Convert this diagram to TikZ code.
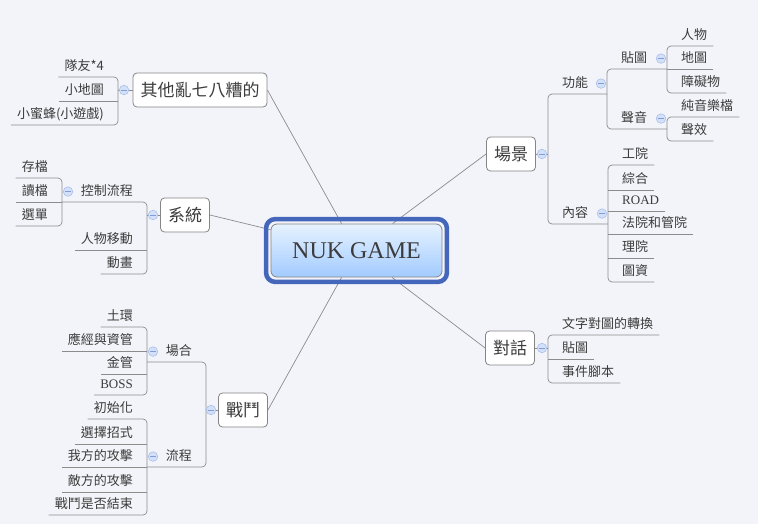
\documentclass[tikz,border=0pt]{standalone}
\usepackage{fontspec}
\setmainfont{Liberation Serif}
\newfontfamily\cjk{Noto Sans CJK TC}
\usetikzlibrary{positioning}
\definecolor{bgpaper}{HTML}{F3F4F9}
\definecolor{linegray}{HTML}{8C8C8C}
\definecolor{boxgray}{HTML}{858585}
\definecolor{textgray}{HTML}{3C3C3C}
\definecolor{foldfill}{HTML}{D3E0F7}
\definecolor{folddraw}{HTML}{A8C0EC}
\definecolor{foldminus}{HTML}{7F9ED8}
\definecolor{nukblue}{HTML}{4466BB}
\definecolor{nuktop}{HTML}{E6F2FF}
\definecolor{nukbottom}{HTML}{A2CBFF}

\begin{document}
\begin{tikzpicture}[x=1pt,y=-1pt,
  topic/.style={draw=boxgray,line width=0.8pt,fill=white,rounded corners=4pt,
    font=\cjk\fontsize{17}{20}\selectfont,text=textgray,minimum height=34pt,inner xsep=7.5pt},
  leaf/.style={font=\cjk\fontsize{13}{15}\selectfont,text=textgray,inner xsep=6pt,inner ysep=4pt,
    text height=10pt,text depth=2.5pt},
  branch/.style={draw=linegray,line width=0.7pt,rounded corners=4pt},
  fold/.style={circle,draw=folddraw,fill=foldfill,line width=0.6pt,minimum size=9.5pt,inner sep=0pt,
    path picture={\draw[foldminus,line width=0.9pt] ([xshift=-2.6pt]path picture bounding box.center) -- ([xshift=2.6pt]path picture bounding box.center);}}]
\useasboundingbox (0,0) rectangle (758,524);
\fill[bgpaper] (0,0) rectangle (758,524);

\node[draw=boxgray,line width=0.8pt,rounded corners=6pt,top color=nuktop,bottom color=nukbottom,
  minimum width=171pt,minimum height=53pt,font=\fontsize{24}{28}\selectfont,text=textgray] (nuk) at (356.5,250.5) {NUK GAME};

\node[topic] (scene) at (511,154) {場景};
\node[topic] (dialog) at (510,348) {對話};
\node[topic] (misc) at (200,90) {其他亂七八糟的};
\node[topic] (system) at (185,215) {系統};
\node[topic] (battle) at (243,410) {戰鬥};

\draw[linegray,line width=0.7pt] (scene.west) -- (nuk);
\draw[linegray,line width=0.7pt] (dialog.west) -- (nuk);
\draw[linegray,line width=0.7pt] (misc.east) -- (nuk);
\draw[linegray,line width=0.7pt] (system.east) -- (nuk);
\draw[linegray,line width=0.7pt] (battle.east) -- (nuk);
\draw[nukblue,line width=4.5pt,rounded corners=9pt] ([shift={(-4.5,-4.5)}]nuk.north west) rectangle ([shift={(4.5,4.5)}]nuk.south east);

\coordinate (spScene) at (548,0);
\coordinate (spGong) at (607,0);
\coordinate (spTie) at (667,0);
\coordinate (spSheng) at (667,0);
\coordinate (spNei) at (608,0);
\coordinate (spDialog) at (548,0);
\coordinate (spMisc) at (118,0);
\coordinate (spSystem) at (147,0);
\coordinate (spKong) at (62,0);
\coordinate (spBattle) at (206,0);
\coordinate (spChang) at (147,0);
\coordinate (spLiu) at (147,0);

\node[leaf,anchor=south west] (gongneng) at (556,94) {功能};
\node[leaf,anchor=south west] (neirong) at (556,224) {內容};
\node[leaf,anchor=south west] (tietu) at (615,69) {貼圖};
\node[leaf,anchor=south west] (shengyin) at (615,129) {聲音};
\node[leaf,anchor=south west] (renwu) at (675,46) {人物};
\node[leaf,anchor=south west] (ditu) at (675,69) {地圖};
\node[leaf,anchor=south west] (zhangai) at (675,93) {障礙物};
\node[leaf,anchor=south west] (chunyin) at (675,117) {純音樂檔};
\node[leaf,anchor=south west] (yinxiao) at (675,141) {聲效};
\node[leaf,anchor=south west] (gongyuan) at (616,165) {工院};
\node[leaf,anchor=south west] (zonghe) at (616,190) {綜合};
\node[leaf,anchor=south west,font=\fontsize{13}{15}\selectfont] (road) at (616,211) {ROAD};
\node[leaf,anchor=south west] (fayuan) at (616,234) {法院和管院};
\node[leaf,anchor=south west] (liyuan) at (616,258) {理院};
\node[leaf,anchor=south west] (tuzi) at (616,282) {圖資};
\node[leaf,anchor=south west] (zhuanhuan) at (556,335) {文字對圖的轉換};
\node[leaf,anchor=south west] (tietu2) at (556,359) {貼圖};
\node[leaf,anchor=south west] (jiaoben) at (556,383) {事件腳本};

\node[leaf,anchor=south east] (duiyou) at (110,77) {隊友*4};
\node[leaf,anchor=south east] (xiaoditu) at (110,101) {小地圖};
\node[leaf,anchor=south east] (mifeng) at (110,125) {小蜜蜂(小遊戲)};
\node[leaf,anchor=south east] (kongzhi) at (139,202) {控制流程};
\node[leaf,anchor=south east] (yidong) at (139,250) {人物移動};
\node[leaf,anchor=south east] (donghua) at (139,274) {動畫};
\node[leaf,anchor=south east] (cundang) at (54,178) {存檔};
\node[leaf,anchor=south east] (dudang) at (54,202) {讀檔};
\node[leaf,anchor=south east] (xuandan) at (54,226) {選單};
\node[leaf,anchor=south east] (changhe) at (198,362) {場合};
\node[leaf,anchor=south east] (liucheng) at (198,467) {流程};
\node[leaf,anchor=south east] (tuhuan) at (139,327) {土環};
\node[leaf,anchor=south east] (yingjing) at (139,351) {應經與資管};
\node[leaf,anchor=south east] (jinguan) at (139,374) {金管};
\node[leaf,anchor=south east,font=\fontsize{13}{15}\selectfont] (boss) at (139,395) {BOSS};
\node[leaf,anchor=south east] (chushi) at (139,419) {初始化};
\node[leaf,anchor=south east] (xuanze) at (139,444) {選擇招式};
\node[leaf,anchor=south east] (wofang) at (139,467) {我方的攻擊};
\node[leaf,anchor=south east] (difang) at (139,492) {敵方的攻擊};
\node[leaf,anchor=south east] (jieshu) at (139,515) {戰鬥是否結束};

\draw[branch] (scene.east) -- (spScene |- scene.east);
\draw[branch] (spGong |- gongneng.south) -- (spScene |- gongneng.south) -- (spScene |- neirong.south) -- (spNei |- neirong.south);
\draw[branch] (spTie |- tietu.south) -- (spGong |- tietu.south) -- (spGong |- shengyin.south) -- (spSheng |- shengyin.south);
\draw[branch] (renwu.south east) -- (spTie |- renwu.south) -- (spTie |- zhangai.south) -- (zhangai.south east);
\draw[branch] (spTie |- ditu.south) -- (ditu.south east);
\draw[branch] (chunyin.south east) -- (spSheng |- chunyin.south) -- (spSheng |- yinxiao.south) -- (yinxiao.south east);
\draw[branch] (gongyuan.south east) -- (spNei |- gongyuan.south) -- (spNei |- tuzi.south) -- (tuzi.south east);
\draw[branch] (spNei |- zonghe.south) -- (zonghe.south east);
\draw[branch] (spNei |- road.south) -- (road.south east);
\draw[branch] (spNei |- fayuan.south) -- (fayuan.south east);
\draw[branch] (spNei |- liyuan.south) -- (liyuan.south east);
\draw[branch] (dialog.east) -- (spDialog |- dialog.east);
\draw[branch] (zhuanhuan.south east) -- (spDialog |- zhuanhuan.south) -- (spDialog |- jiaoben.south) -- (jiaoben.south east);
\draw[branch] (spDialog |- tietu2.south) -- (tietu2.south east);

\draw[branch] (misc.west) -- (spMisc |- misc.west);
\draw[branch] (duiyou.south west) -- (spMisc |- duiyou.south) -- (spMisc |- mifeng.south) -- (mifeng.south west);
\draw[branch] (spMisc |- xiaoditu.south) -- (xiaoditu.south west);
\draw[branch] (system.west) -- (spSystem |- system.west);
\draw[branch] (spKong |- kongzhi.south) -- (spSystem |- kongzhi.south) -- (spSystem |- donghua.south) -- (donghua.south west);
\draw[branch] (spSystem |- yidong.south) -- (yidong.south west);
\draw[branch] (cundang.south west) -- (spKong |- cundang.south) -- (spKong |- xuandan.south) -- (xuandan.south west);
\draw[branch] (spKong |- dudang.south) -- (dudang.south west);
\draw[branch] (battle.west) -- (spBattle |- battle.west);
\draw[branch] (spChang |- changhe.south) -- (spBattle |- changhe.south) -- (spBattle |- liucheng.south) -- (spLiu |- liucheng.south);
\draw[branch] (tuhuan.south west) -- (spChang |- tuhuan.south) -- (spChang |- boss.south) -- (boss.south west);
\draw[branch] (spChang |- yingjing.south) -- (yingjing.south west);
\draw[branch] (spChang |- jinguan.south) -- (jinguan.south west);
\draw[branch] (chushi.south west) -- (spLiu |- chushi.south) -- (spLiu |- jieshu.south) -- (jieshu.south west);
\draw[branch] (spLiu |- xuanze.south) -- (xuanze.south west);
\draw[branch] (spLiu |- wofang.south) -- (wofang.south west);
\draw[branch] (spLiu |- difang.south) -- (difang.south west);

\node[fold,xshift=-6pt] (foldScene) at (spScene |- scene) {};
\node[fold,xshift=-6pt] (foldGong) at (spGong |- gongneng) {};
\node[fold,xshift=-6pt] (foldTie) at (spTie |- tietu) {};
\node[fold,xshift=-6pt] (foldSheng) at (spSheng |- shengyin) {};
\node[fold,xshift=-6pt] (foldNei) at (spNei |- neirong) {};
\node[fold,xshift=-6pt] (foldDialog) at (spDialog |- dialog) {};
\node[fold,xshift=6pt] (foldMisc) at (spMisc |- misc) {};
\node[fold,xshift=6pt] (foldSystem) at (spSystem |- system) {};
\node[fold,xshift=6pt] (foldKong) at (spKong |- kongzhi) {};
\node[fold,xshift=5pt] (foldBattle) at (spBattle |- battle) {};
\node[fold,xshift=6pt] (foldChang) at (spChang |- changhe) {};
\node[fold,xshift=6pt] (foldLiu) at (spLiu |- liucheng) {};
\end{tikzpicture}
\end{document}
